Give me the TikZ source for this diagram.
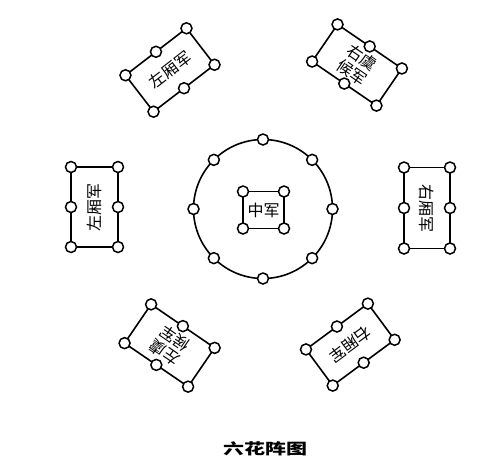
\documentclass[tikz,border=0pt]{standalone}
\usepackage{fontspec}
\newfontfamily\cjk{Noto Sans CJK SC}
\tikzset{
  dot/.style={circle, draw, fill=white, line width=1.5pt, minimum size=11pt, inner sep=0pt},
  box/.style={draw, line width=1.6pt, inner sep=0pt, outer sep=0pt},
  lab/.style={font=\cjk\fontsize{16}{18}\selectfont, align=center, inner sep=0pt},
  ttl/.style={font=\cjk\bfseries\fontsize{15}{17}\selectfont, inner sep=0pt}
}
\newcommand\dotsbox[1]{%
  \foreach \a in {north west,north,north east,south west,south,south east}
    \node[dot] at (#1.\a) {};}
\begin{document}
\begin{tikzpicture}[x=1pt,y=-1pt]
\useasboundingbox (0,0) rectangle (490,475);
% top-left
\node[box, minimum width=77pt, minimum height=46pt, rotate=37.6] (tl) at (170,70) {};
\node[lab, rotate=37.6] (tlt) at (tl.center) {左厢军};
\dotsbox{tl}
% top-right
\node[box, minimum width=78pt, minimum height=45pt, rotate=-34.4] (tr) at (357,65) {};
\node[lab, rotate=-34.4] (trt) at (tr.center) {右虞\\候军};
\dotsbox{tr}
% left
\node[box, minimum width=80pt, minimum height=47pt, rotate=90] (ml) at (94.5,207) {};
\node[lab, rotate=90] (mlt) at (ml.center) {左厢军};
\dotsbox{ml}
% right
\node[box, minimum width=81pt, minimum height=46pt, rotate=90] (mr) at (427,208) {};
\node[lab, rotate=-90] (mrt) at (mr.center) {右厢军};
\dotsbox{mr}
% bottom-left
\node[box, minimum width=77pt, minimum height=47pt, rotate=-34.4] (bl) at (169.6,345.5) {};
\node[lab, rotate=145.6] (blt) at (bl.center) {左虞\\候军};
\dotsbox{bl}
% bottom-right
\node[box, minimum width=77pt, minimum height=45pt, rotate=36.5] (br) at (350.3,344.6) {};
\node[lab, rotate=216.5] (brt) at (br.center) {右厢军};
\dotsbox{br}
% centre ring
\node[circle, draw, line width=1.6pt, minimum size=139pt, inner sep=0pt, outer sep=0pt] (ring) at (263,209) {};
\foreach \t in {0,45,...,315} \node[dot] at (ring.\t) {};
% centre army
\node[box, lab, minimum width=41pt, minimum height=37pt] (zj) at (263.5,210) {中军};
\foreach \a in {north west,north east,south west,south east} \node[dot] at (zj.\a) {};
% title
\node[ttl, xscale=1.4] (title) at (265,449) {六花阵图};
\end{tikzpicture}
\end{document}
